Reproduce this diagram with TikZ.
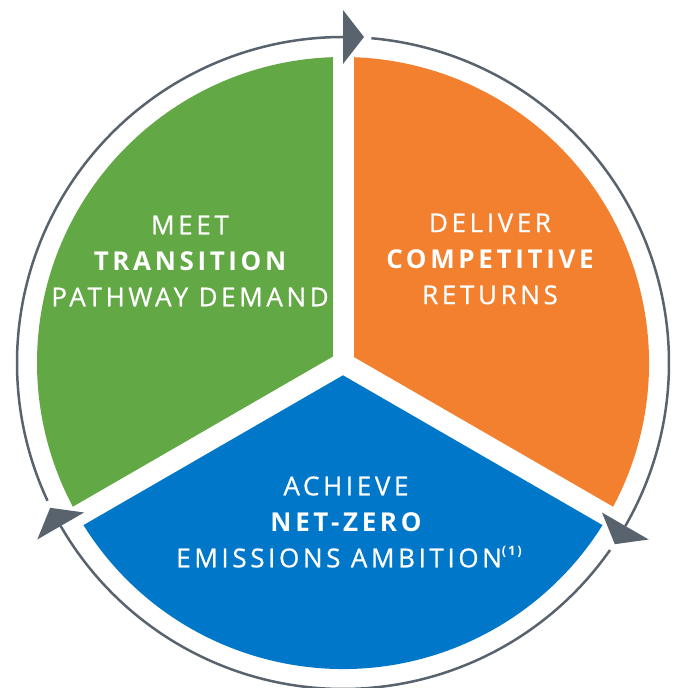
\documentclass[tikz,border=0pt]{standalone}
\usepackage{fontspec}
\setmainfont{Open Sans}
\newfontfamily\spacedfont[LetterSpace=14, UprightFeatures={FakeBold=0.7}]{Open Sans}
\usepackage{tikz}
\usetikzlibrary{calc}

\definecolor{pathgreen}{HTML}{62A845}
\definecolor{returnorange}{HTML}{F2802E}
\definecolor{zeroblue}{HTML}{0077C8}
\definecolor{ringgray}{HTML}{58636E}

\tikzset{
  sectortext/.style={text=white, align=center, inner sep=0pt,
    font=\spacedfont\fontsize{26}{36}\selectfont},
}

\begin{document}
\begin{tikzpicture}[x=1pt,y=1pt]
\useasboundingbox (-343,-325) rectangle (330,363);

% Sectors
\fill[pathgreen] (0,0) -- (90:306) arc (90:210:306) -- cycle;
\fill[returnorange] (0,0) -- (-30:306) arc (-30:90:306) -- cycle;
\fill[zeroblue] (0,0) -- (210:306) arc (210:330:306) -- cycle;

% White gaps
\foreach \a in {90,210,330}
  \draw[white, line width=21] (0,0) -- (\a:315);

% Outer ring
\foreach \s/\e in {85/-30, -35/-150, 205/90}
  \draw[ringgray, line width=2.5] (\s:326) arc (\s:\e:326);

% Arrowheads
\foreach \a in {90,210,330}
  \fill[ringgray] (\a:299) -- (\a:353) -- ($(\a:326)+(\a-90:21)$) -- cycle;

% Labels
\node[sectortext] (meet) at (-153,102) {MEET\\{\bfseries TRANSITION}\\PATHWAY DEMAND};
\node[sectortext] (deliver) at (147,104) {DELIVER\\{\bfseries COMPETITIVE}\\RETURNS};
\node[sectortext] (achieve) at (3,-159) {ACHIEVE\\{\bfseries NET-ZERO}\\EMISSIONS AMBITION{\raisebox{12pt}{\fontsize{13}{13}\selectfont\bfseries(1)}}\hspace*{-6pt}};
\end{tikzpicture}
\end{document}
